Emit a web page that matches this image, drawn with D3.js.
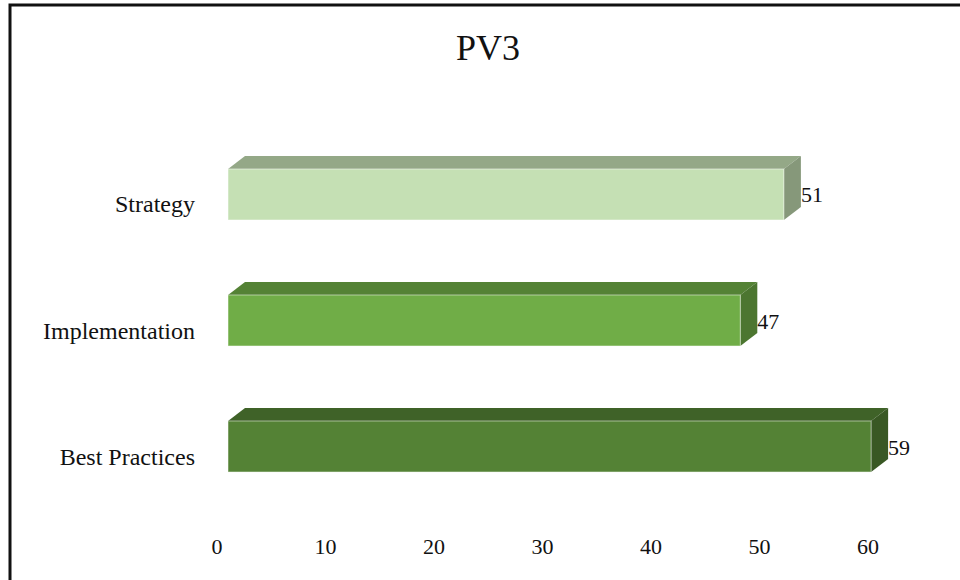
<!DOCTYPE html>
<html>
<head>
<meta charset="utf-8">
<script src="https://cdn.jsdelivr.net/npm/d3@7"></script>
<style>
  html, body { margin: 0; padding: 0; background: #fff; }
  svg { display: block; }
  text { font-family: "Liberation Serif", "Times New Roman", serif; fill: #111; }
</style>
</head>
<body>
<svg id="chart" width="960" height="580"></svg>
<script>
// Chart data
const title = "PV3";
const categories = ["Strategy", "Implementation", "Best Practices"];
const values = [51, 47, 59];
const tickValues = [0, 10, 20, 30, 40, 50, 60];
const frontColors = ["#C5E0B4", "#70AD47", "#548235"];

const svg = d3.select("#chart");
const W = 960, H = 580;

// Frame (open on the right and bottom)
svg.append("path")
  .attr("d", `M10,${H + 5} L10,5 L${W + 5},5`)
  .attr("fill", "none")
  .attr("stroke", "#111")
  .attr("stroke-width", 3);

// Title
svg.append("text")
  .attr("x", 488).attr("y", 60)
  .attr("text-anchor", "middle")
  .attr("font-size", 36)
  .text(title);

// Scales: bars sit on the front plane, tick labels on the projected floor edge
const x = d3.scaleLinear().domain([0, 60]).range([228, 882]);
const xTicks = d3.scaleLinear().domain([0, 60]).range([216.5, 867.5]);
const y = d3.scaleBand().domain(categories).range([94, 547]).padding(0.595);

// 3D depth offsets
const dx = 17, dy = 13;

const shade = (c, k) => {
  const r = d3.rgb(c);
  return d3.rgb(r.r * k, r.g * k, r.b * k).formatHex();
};

const rows = categories.map((c, i) => ({ cat: c, value: values[i], color: frontColors[i] }));

const g = svg.append("g");

rows.forEach(d => {
  const x0 = x(0), x1 = x(d.value);
  const yt = y(d.cat), yb = yt + y.bandwidth();
  // top face
  g.append("path")
    .attr("d", `M${x0},${yt} L${x0 + dx},${yt - dy} L${x1 + dx},${yt - dy} L${x1},${yt} Z`)
    .attr("fill", shade(d.color, 0.75));
  // side face
  g.append("path")
    .attr("d", `M${x1},${yt} L${x1 + dx},${yt - dy} L${x1 + dx},${yb - dy} L${x1},${yb} Z`)
    .attr("fill", shade(d.color, 0.68));
  // front face
  g.append("rect")
    .attr("x", x0).attr("y", yt)
    .attr("width", x1 - x0).attr("height", y.bandwidth())
    .attr("fill", d.color)
    .attr("stroke", "rgba(255,255,255,0.5)")
    .attr("stroke-width", 1);
  // value label
  g.append("text")
    .attr("x", x1 + dx).attr("y", yt + y.bandwidth() / 2 + 8)
    .attr("font-size", 22)
    .text(d.value);
  // category label
  g.append("text")
    .attr("x", 195).attr("y", yt + y.bandwidth() / 2 + 18)
    .attr("text-anchor", "end")
    .attr("font-size", 24)
    .text(d.cat);
});

// Value axis labels (no axis line)
const axis = d3.axisBottom(xTicks).tickValues(tickValues).tickSize(0).tickPadding(0);
const ag = svg.append("g").attr("transform", "translate(0,538)").call(axis);
ag.select(".domain").remove();
ag.selectAll("text")
  .attr("font-size", 22)
  .attr("fill", "#111")
  .attr("font-family", "Liberation Serif, Times New Roman, serif")
  .attr("dy", "0.71em");
</script>
</body>
</html>
